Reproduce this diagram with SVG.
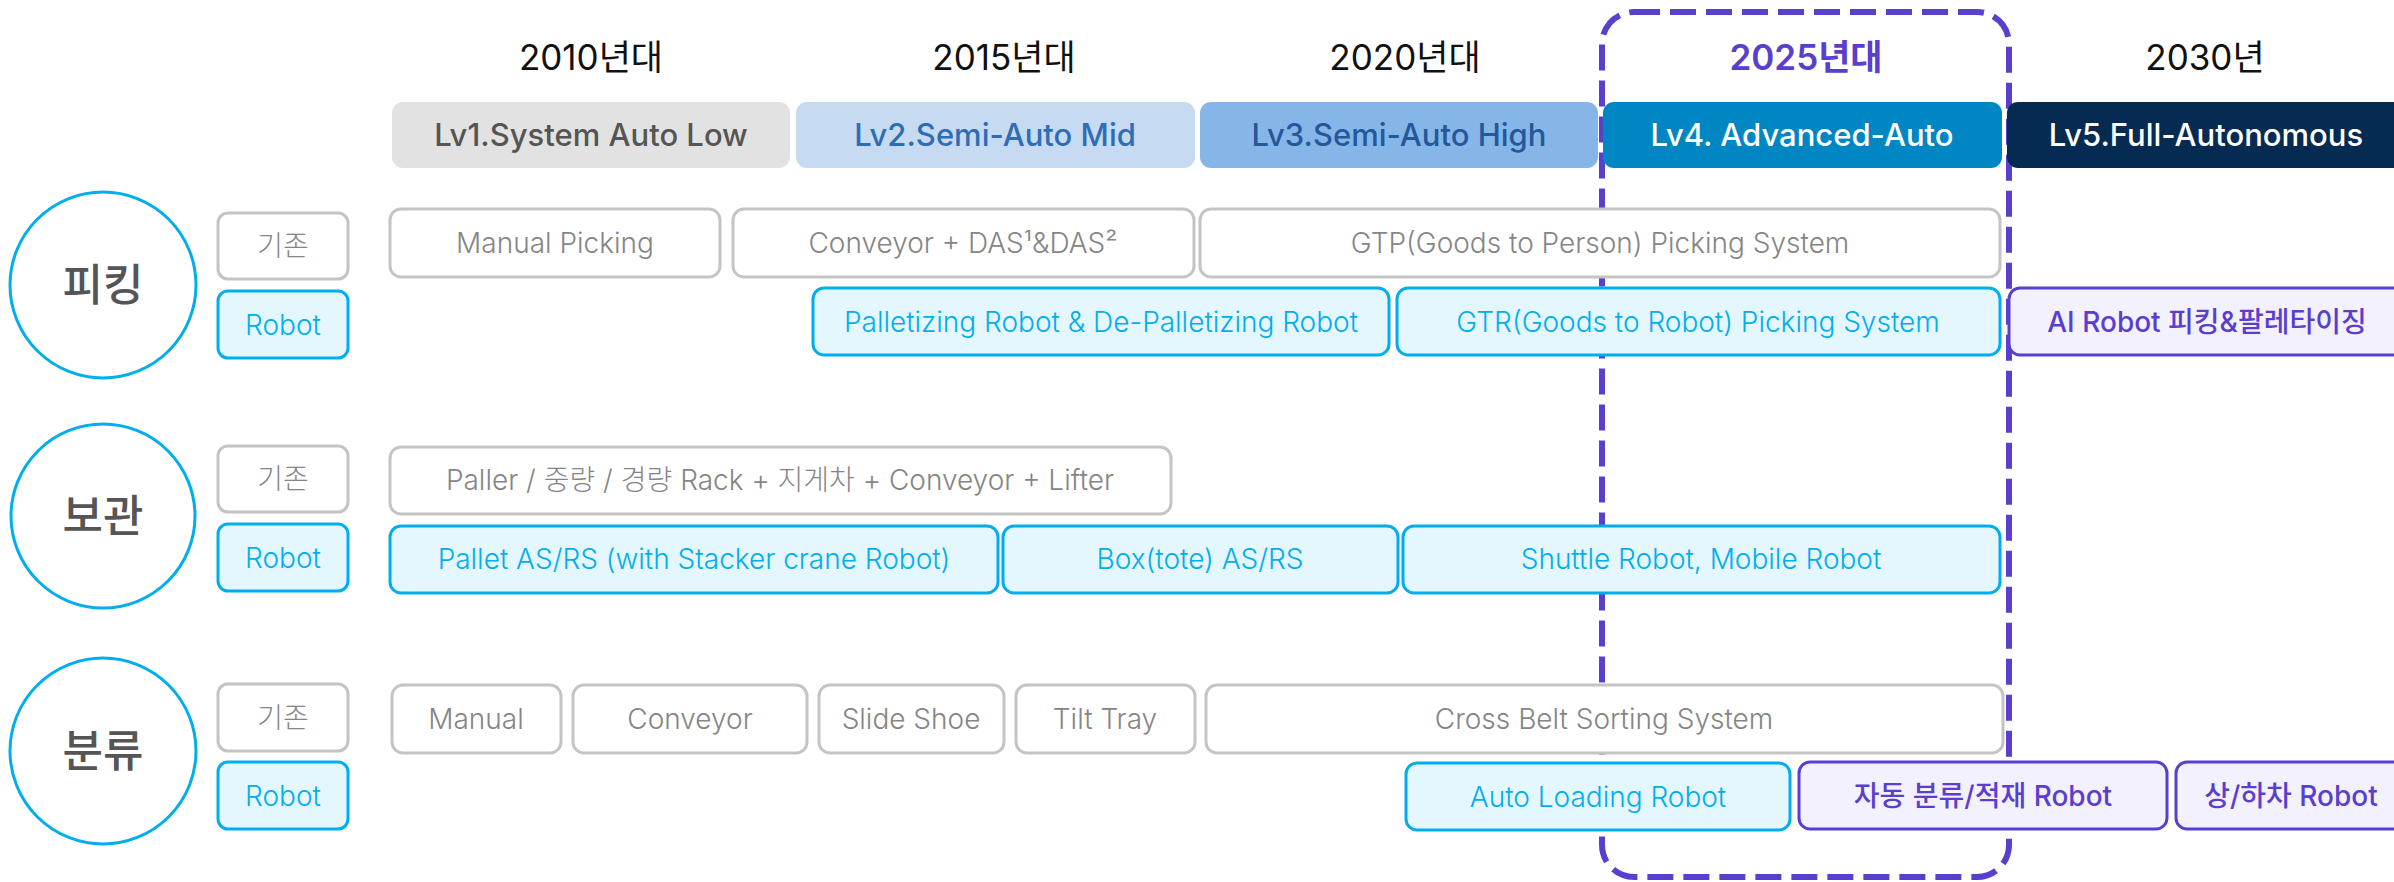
<svg xmlns="http://www.w3.org/2000/svg" width="2394" height="882" viewBox="0 0 2394 882">
  <style>
    text { font-family: Inter, "Noto Sans CJK KR", "Noto Sans", sans-serif; text-anchor: middle; }
    .year { font-size: 35px; fill: #111; font-weight: 400; }
    .year-now { font-size: 35px; fill: #5a3fcf; font-weight: 600; }
    .lv { font-size: 31px; font-weight: 500; }
    .old rect { fill: #fff; stroke: #c4c4c4; stroke-width: 3; }
    .old text { font-size: 28px; fill: #858585; font-weight: 300; }
    .bot rect { fill: #e5f7fe; stroke: #00aeef; stroke-width: 3; }
    .bot text { font-size: 28px; fill: #00aeef; font-weight: 300; }
    .ai rect { fill: #f3f1fd; stroke: #5a3fcf; stroke-width: 3; }
    .ai text { font-size: 28px; fill: #5a3fcf; font-weight: 500; }
    .cat circle { fill: #fff; stroke: #00aeef; stroke-width: 3; }
    .cat text { font-size: 44px; fill: #555; font-weight: 500; }
  </style>

  <!-- decade headings -->
  <g id="years">
    <text class="year" x="591" y="70">2010년대</text>
    <text class="year" x="1004" y="70">2015년대</text>
    <text class="year" x="1405" y="70">2020년대</text>
    <text class="year-now" x="1806" y="70">2025년대</text>
    <text class="year" x="2205" y="70">2030년</text>
  </g>

  <!-- highlight frame around the current decade (drawn under the boxes) -->
  <g id="connectors">
    <rect x="1602" y="12" width="407" height="865" rx="32" fill="none" stroke="#5a3fcf" stroke-width="6" stroke-dasharray="26 10"/>
  </g>

  <!-- automation levels -->
  <g id="lv1"><rect x="392" y="102" width="398" height="66" rx="11" fill="#e2e2e2"/><text class="lv" x="591" y="146" fill="#555">Lv1.System Auto Low</text></g>
  <g id="lv2"><rect x="796" y="102" width="399" height="66" rx="11" fill="#c6dbf2"/><text class="lv" x="995" y="146" fill="#2e6db4">Lv2.Semi-Auto Mid</text></g>
  <g id="lv3"><rect x="1200" y="102" width="398" height="66" rx="11" fill="#86b6e8"/><text class="lv" x="1399" y="146" fill="#23589a">Lv3.Semi-Auto High</text></g>
  <g id="lv4"><rect x="1603" y="102" width="399" height="66" rx="11" fill="#0087c3"/><text class="lv" x="1802" y="146" fill="#fff">Lv4. Advanced-Auto</text></g>
  <g id="lv5"><rect x="2007" y="102" width="398" height="66" rx="11" fill="#062b52"/><text class="lv" x="2206" y="146" fill="#fff">Lv5.Full-Autonomous</text></g>

  <!-- category circles -->
  <g id="cat-picking" class="cat"><circle cx="103" cy="285" r="93"/><text x="103" y="301">피킹</text></g>
  <g id="cat-storage" class="cat"><circle cx="103" cy="516" r="92"/><text x="103" y="532">보관</text></g>
  <g id="cat-sorting" class="cat"><circle cx="103" cy="751" r="93"/><text x="103" y="767">분류</text></g>

  <!-- row labels -->
  <g id="picking-old-tag" class="old"><rect x="218" y="213" width="130" height="66" rx="10"/><text x="283" y="256">기존</text></g>
  <g id="picking-bot-tag" class="bot"><rect x="218" y="291" width="130" height="67" rx="10"/><text x="283" y="335">Robot</text></g>
  <g id="storage-old-tag" class="old"><rect x="218" y="446" width="130" height="66" rx="10"/><text x="283" y="489">기존</text></g>
  <g id="storage-bot-tag" class="bot"><rect x="218" y="524" width="130" height="67" rx="10"/><text x="283" y="568">Robot</text></g>
  <g id="sorting-old-tag" class="old"><rect x="218" y="684" width="130" height="67" rx="10"/><text x="283" y="728">기존</text></g>
  <g id="sorting-bot-tag" class="bot"><rect x="218" y="762" width="130" height="67" rx="10"/><text x="283" y="806">Robot</text></g>

  <!-- picking -->
  <g id="manual-picking" class="old"><rect x="390" y="209" width="330" height="68" rx="11"/><text x="555" y="253">Manual Picking</text></g>
  <g id="conveyor-das" class="old"><rect x="733" y="209" width="461" height="68" rx="11"/><text x="963" y="253">Conveyor + DAS¹&amp;DAS²</text></g>
  <g id="gtp" class="old"><rect x="1200" y="209" width="800" height="68" rx="11"/><text x="1600" y="253">GTP(Goods to Person) Picking System</text></g>
  <g id="palletizing" class="bot"><rect x="813" y="288" width="576" height="67" rx="11"/><text x="1101" y="332">Palletizing Robot &amp; De-Palletizing Robot</text></g>
  <g id="gtr" class="bot"><rect x="1397" y="288" width="603" height="67" rx="11"/><text x="1698" y="332">GTR(Goods to Robot) Picking System</text></g>
  <g id="ai-picking" class="ai"><rect x="2009" y="288" width="396" height="67" rx="11"/><text x="2207" y="332">AI Robot 피킹&amp;팔레타이징</text></g>

  <!-- storage -->
  <g id="rack" class="old"><rect x="390" y="447" width="781" height="67" rx="11"/><text x="780" y="490">Paller / 중량 / 경량 Rack + 지게차 + Conveyor + Lifter</text></g>
  <g id="pallet-asrs" class="bot"><rect x="390" y="526" width="608" height="67" rx="11"/><text x="694" y="569">Pallet AS/RS (with Stacker crane Robot)</text></g>
  <g id="box-asrs" class="bot"><rect x="1003" y="526" width="395" height="67" rx="11"/><text x="1200" y="569">Box(tote) AS/RS</text></g>
  <g id="shuttle" class="bot"><rect x="1403" y="526" width="597" height="67" rx="11"/><text x="1701" y="569">Shuttle Robot, Mobile Robot</text></g>

  <!-- sorting -->
  <g id="manual" class="old"><rect x="392" y="685" width="169" height="68" rx="11"/><text x="476" y="729">Manual</text></g>
  <g id="conveyor" class="old"><rect x="573" y="685" width="234" height="68" rx="11"/><text x="690" y="729">Conveyor</text></g>
  <g id="slide-shoe" class="old"><rect x="819" y="685" width="185" height="68" rx="11"/><text x="911" y="729">Slide Shoe</text></g>
  <g id="tilt-tray" class="old"><rect x="1016" y="685" width="179" height="68" rx="11"/><text x="1105" y="729">Tilt Tray</text></g>
  <g id="cross-belt" class="old"><rect x="1206" y="685" width="797" height="68" rx="11"/><text x="1604" y="729">Cross Belt Sorting System</text></g>
  <g id="auto-loading" class="bot"><rect x="1406" y="763" width="384" height="67" rx="11"/><text x="1598" y="807">Auto Loading Robot</text></g>
  <g id="auto-sorting" class="ai"><rect x="1799" y="762" width="368" height="67" rx="11"/><text x="1983" y="806">자동 분류/적재 Robot</text></g>
  <g id="loading" class="ai"><rect x="2176" y="762" width="230" height="67" rx="11"/><text x="2291" y="806">상/하차 Robot</text></g>
</svg>
